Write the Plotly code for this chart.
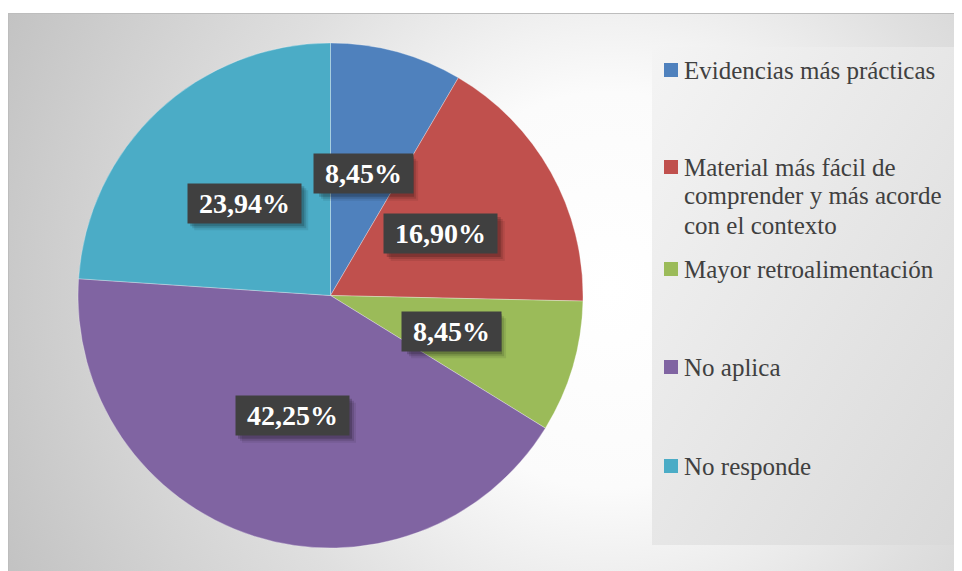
import base64
import math

import plotly.graph_objects as go

# data (percent of respondents)
categories = [
    "Evidencias más prácticas",
    "Material más fácil de comprender y más acorde con el contexto",
    "Mayor retroalimentación",
    "No aplica",
    "No responde",
]
legend_labels = [
    "Evidencias más prácticas",
    "Material más fácil de<br>comprender y más acorde<br>con el contexto",
    "Mayor retroalimentación",
    "No aplica",
    "No responde",
]
percentages = [8.45, 16.90, 8.45, 42.25, 23.94]
colors = ["#4F81BD", "#C0504D", "#9BBB59", "#8064A2", "#4BACC6"]

W, H = 962, 571
OFF = 8  # the page body adds an 8px margin around the figure


def px(x):
    return (x - OFF) / W


def py(y):
    return 1 - (y - OFF) / H


# pie geometry in screen pixels
cx, cy, r = 330.5, 295.5, 252.5

# background: chart area with a soft radial gradient + legend panel
svg = f"""<svg xmlns="http://www.w3.org/2000/svg" width="{W}" height="{H}" viewBox="0 0 {W} {H}" preserveAspectRatio="none">
<defs>
<radialGradient id="g1" gradientUnits="userSpaceOnUse" cx="{610 - OFF}" cy="{290 - OFF}" r="660">
<stop offset="0" stop-color="#ffffff"/>
<stop offset="0.3" stop-color="#fbfbfb"/>
<stop offset="0.6" stop-color="#dfdfdf"/>
<stop offset="1" stop-color="#c3c3c3"/>
</radialGradient>
<linearGradient id="g2" x1="0" y1="0" x2="1" y2="1">
<stop offset="0" stop-color="#f4f4f4"/>
<stop offset="1" stop-color="#d9d9d9"/>
</linearGradient>
</defs>
<rect x="0" y="0" width="{W}" height="{H}" fill="#ffffff"/>
<rect x="0.5" y="{13.5 - OFF}" width="980" height="580" fill="url(#g1)" stroke="#bdbdbd" stroke-width="1"/>
<rect x="{652 - OFF}" y="{47 - OFF}" width="308" height="498" fill="url(#g2)"/>
</svg>"""
bg_src = "data:image/svg+xml;base64," + base64.b64encode(svg.encode("utf-8")).decode("ascii")

fig = go.Figure()
fig.add_trace(
    go.Pie(
        labels=categories,
        values=percentages,
        marker=dict(colors=colors, line=dict(color="rgba(255,255,255,0.5)", width=0.6)),
        sort=False,
        direction="clockwise",
        rotation=0,
        textinfo="none",
        hoverinfo="label+percent",
        showlegend=False,
        domain=dict(x=[px(cx - r), px(cx + r)], y=[py(cy + r), py(cy - r)]),
    )
)

annotations = []
shapes = []
total = sum(percentages)
label_font = dict(family="Liberation Serif", size=28, color="white")
start = 0.0
positions = []
for val in percentages:
    mid = (start + val / 2) / total * 2 * math.pi
    start += val
    lx = cx + 0.5 * r * math.sin(mid)
    ly = cy - 0.5 * r * math.cos(mid)
    positions.append((lx, ly))

for (lx, ly), val in zip(positions, percentages):
    txt = f"{val:.2f}".replace(".", ",") + "%"
    half_w = 19 * len(txt) / 2
    half_h = 20
    # soft drop shadow behind the label box
    for shift, alpha in ((7, 0.08), (5, 0.12), (3, 0.18)):
        shapes.append(dict(
            type="rect", xref="paper", yref="paper",
            x0=px(lx - half_w + shift), x1=px(lx + half_w + shift),
            y0=py(ly + half_h + shift), y1=py(ly - half_h + shift),
            fillcolor=f"rgba(0,0,0,{alpha})", line=dict(width=0),
        ))
    annotations.append(dict(
        x=px(lx), y=py(ly), xref="paper", yref="paper",
        text="&nbsp;<b>" + txt + "</b>&nbsp;",
        xanchor="center", yanchor="middle",
        showarrow=False, font=label_font, bgcolor="#404040", borderpad=4,
    ))

# legend drawn on the right panel
legend_font = dict(family="Liberation Serif", size=25, color="#404040")
item_y = [70, 167, 269, 367, 466]
line_gap = 29
for name, color, y0 in zip(legend_labels, colors, item_y):
    shapes.append(dict(
        type="rect", xref="paper", yref="paper",
        x0=px(664), x1=px(678), y0=py(y0 + 7), y1=py(y0 - 7),
        fillcolor=color, line=dict(width=0),
    ))
    for i, line in enumerate(name.split("<br>")):
        annotations.append(dict(
            x=px(682), y=py(y0 + i * line_gap), xref="paper", yref="paper",
            text=line, showarrow=False, xanchor="left", yanchor="middle",
            font=legend_font,
        ))

fig.update_layout(
    width=W,
    height=H,
    autosize=False,
    margin=dict(l=0, r=0, t=0, b=0),
    paper_bgcolor="white",
    plot_bgcolor="white",
    images=[dict(
        source=bg_src, xref="paper", yref="paper", x=0, y=1,
        sizex=1, sizey=1, xanchor="left", yanchor="top",
        sizing="stretch", layer="below",
    )],
    shapes=shapes,
    annotations=annotations,
)

fig.write_html("out.html")
